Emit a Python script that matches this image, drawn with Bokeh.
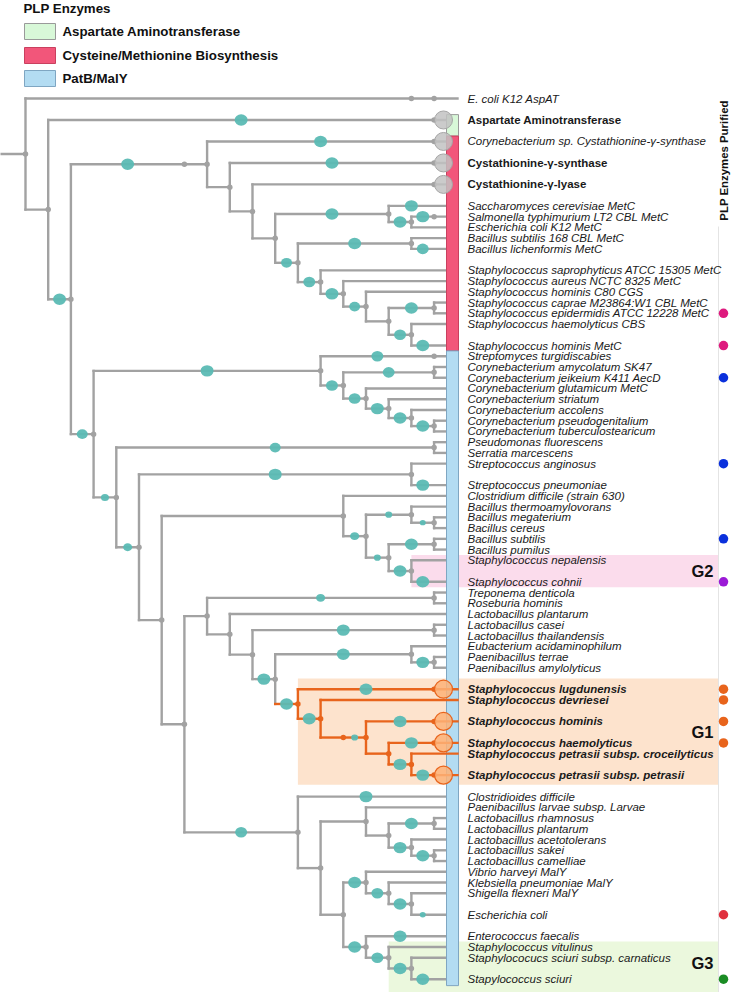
import math
from bokeh.plotting import figure
from bokeh.models import Range1d
from bokeh.core.properties import value
from bokeh.embed import file_html
from bokeh.resources import INLINE

# ---------------- data ----------------
LABELS = [
    "E. coli K12 AspAT",
    "Aspartate Aminotransferase",
    "Corynebacterium sp. Cystathionine-\u03b3-synthase",
    "Cystathionine-\u03b3-synthase",
    "Cystathionine-\u03b3-lyase",
    "Saccharomyces cerevisiae MetC",
    "Salmonella typhimurium LT2 CBL MetC",
    "Escherichia coli K12 MetC",
    "Bacillus subtilis 168 CBL MetC",
    "Bacillus lichenformis MetC",
    "Staphylococcus saprophyticus ATCC 15305 MetC",
    "Staphylococcus aureus NCTC 8325 MetC",
    "Staphylococcus hominis C80 CGS",
    "Staphylococcus caprae M23864:W1 CBL MetC",
    "Staphylococcus epidermidis ATCC 12228 MetC",
    "Staphylococcus haemolyticus CBS",
    "Staphylococcus hominis MetC",
    "Streptomyces turgidiscabies",
    "Corynebacterium amycolatum SK47",
    "Corynebacterium jeikeium K411 AecD",
    "Corynebacterium glutamicum MetC",
    "Corynebacterium striatum",
    "Corynebacterium accolens",
    "Corynebacterium pseudogenitalium",
    "Corynebacterium tuberculostearicum",
    "Pseudomonas fluorescens",
    "Serratia marcescens",
    "Streptococcus anginosus",
    "Streptococcus pneumoniae",
    "Clostridium difficile (strain 630)",
    "Bacillus thermoamylovorans",
    "Bacillus megaterium",
    "Bacillus cereus",
    "Bacillus subtilis",
    "Bacillus pumilus",
    "Staphylococcus nepalensis",
    "Staphylococcus cohnii",
    "Treponema denticola",
    "Roseburia hominis",
    "Lactobacillus plantarum",
    "Lactobacillus casei",
    "Lactobacillus thailandensis",
    "Eubacterium acidaminophilum",
    "Paenibacillus terrae",
    "Paenibacillus amylolyticus",
    "Staphylococcus lugdunensis",
    "Staphylococcus devriesei",
    "Staphylococcus hominis",
    "Staphylococcus haemolyticus",
    "Staphylococcus petrasii subsp. croceilyticus",
    "Staphylococcus petrasii subsp. petrasii",
    "Clostridioides difficile",
    "Paenibacillus larvae subsp. Larvae",
    "Lactobacillus rhamnosus",
    "Lactobacillus plantarum",
    "Lactobacillus acetotolerans",
    "Lactobacillus sakei",
    "Lactobacillus camelliae",
    "Vibrio harveyi MalY",
    "Klebsiella pneumoniae MalY",
    "Shigella flexneri MalY",
    "Escherichia coli",
    "Enterococcus faecalis",
    "Staphylococcus vitulinus",
    "Staphylococucs sciuri subsp. carnaticus",
    "Stapylococcus sciuri",
]
ROWS = [0, 2, 4, 6, 8, 10, 11, 12, 13, 14, 16, 17, 18, 19, 20, 21, 23, 24, 25, 26,
        27, 28, 29, 30, 31, 32, 33, 34, 36, 37, 38, 39, 40, 41, 42, 43, 45, 46, 47, 48,
        49, 50, 51, 52, 53, 55, 56, 58, 60, 61, 63, 65, 66, 67, 68, 69, 70, 71, 72, 73,
        74, 76, 78, 79, 80, 82]
BOLD_LEAVES = [1, 3, 4]
BOLD_ITALIC_LEAVES = [45, 46, 47, 48, 49, 50]

# tree edges: (child, parent, depth level of child, support circle diameter)
# ints are leaves (index into LABELS), strings internal nodes
EDGES = [
    ("d_ec", "root", 17, 0), (0, "d_ec", 18, 0),
    ("A", "root", 1, 0),
    (1, "A", 18, 13), ("B", "A", 2, 13),
    ("d_b", "B", 7, 13), ("C", "d_b", 8, 0),
    (2, "C", 18, 13), ("E", "C", 9, 0),
    (3, "E", 18, 13), ("F", "E", 10, 0),
    (4, "F", 18, 0), ("G", "F", 11, 0),
    ("H", "G", 16, 13), (5, "H", 18, 13), ("H2", "H", 17, 13),
    (6, "H2", 18, 13), (7, "H2", 18, 0),
    ("I", "G", 12, 11), ("J", "I", 17, 13), (8, "J", 18, 0), (9, "J", 18, 12),
    ("K", "I", 13, 12), (10, "K", 18, 0), ("L", "K", 14, 13), (11, "L", 18, 0),
    ("M", "L", 15, 11), (12, "M", 18, 0), ("N", "M", 16, 0),
    ("O", "N", 18, 13), (13, "O", 18, 0), (14, "O", 18, 0),
    ("P", "N", 17, 12), (15, "P", 18, 0), (16, "P", 18, 13),
    ("D", "B", 3, 11),
    ("Q", "D", 13, 13), (17, "Q", 18, 12), ("S", "Q", 14, 12),
    ("T", "S", 18, 12), (18, "T", 18, 0), (19, "T", 18, 0),
    ("U", "S", 15, 12), (20, "U", 18, 0), ("V", "U", 16, 13), (21, "V", 18, 0),
    ("W", "V", 17, 13), (22, "W", 18, 0), ("X", "W", 18, 13), (23, "X", 18, 0), (24, "X", 18, 0),
    ("R", "D", 4, 8), ("Y", "R", 18, 11), (25, "Y", 18, 0), (26, "Y", 18, 0),
    ("Z", "R", 5, 9), ("AA", "Z", 17, 13), (27, "AA", 18, 0), (28, "AA", 18, 13),
    ("AB", "Z", 6, 0), ("AC", "AB", 14, 0), (29, "AC", 18, 0),
    ("AE", "AC", 15, 9), ("AF", "AE", 17, 7), (30, "AF", 18, 0),
    ("AG", "AF", 18, 6), (31, "AG", 18, 0), (32, "AG", 18, 0),
    ("AH", "AE", 16, 7), ("AI", "AH", 18, 13), (33, "AI", 18, 0), (34, "AI", 18, 0),
    ("AJ", "AH", 17, 13), (35, "AJ", 18, 0), (36, "AJ", 18, 13),
    ("AD", "AB", 7, 0), ("AK", "AD", 8, 0),
    ("AM", "AK", 18, 9), (37, "AM", 18, 0), (38, "AM", 18, 0),
    ("AN", "AK", 9, 0), (39, "AN", 18, 0), ("AO", "AN", 10, 0),
    ("AP", "AO", 18, 13), (40, "AP", 18, 0), (41, "AP", 18, 0),
    ("AQ", "AO", 11, 13), ("AR", "AQ", 17, 13), (42, "AR", 18, 0),
    ("AS", "AR", 18, 13), (43, "AS", 18, 0), (44, "AS", 18, 0),
    ("AT", "AQ", 12, 13), (45, "AT", 18, 13), ("AU", "AT", 13, 13), (46, "AU", 18, 0),
    ("d_au", "AU", 14, 0), ("AV", "d_au", 15, 7), (47, "AV", 18, 13),
    ("AW", "AV", 16, 0), (48, "AW", 18, 13), ("AX", "AW", 17, 13),
    (49, "AX", 18, 0), (50, "AX", 18, 13),
    ("AL", "AD", 12, 12), (51, "AL", 18, 13), ("AY", "AL", 13, 0),
    ("AZ", "AY", 15, 0), (52, "AZ", 18, 0), ("BB", "AZ", 16, 0),
    ("BC", "BB", 18, 13), (53, "BC", 18, 0), (54, "BC", 18, 0),
    ("BD", "BB", 17, 13), (55, "BD", 18, 0), ("BE", "BD", 18, 13), (56, "BE", 18, 0), (57, "BE", 18, 0),
    ("BA", "AY", 14, 0),
    ("BF", "BA", 15, 13), (58, "BF", 18, 0), ("BH", "BF", 16, 12), (59, "BH", 18, 0),
    ("BI", "BH", 17, 13), (60, "BI", 18, 0), (61, "BI", 18, 6),
    ("BG", "BA", 15, 13), (62, "BG", 18, 13), ("BJ", "BG", 16, 12), (63, "BJ", 18, 0),
    ("BK", "BJ", 17, 13), (64, "BK", 18, 0), (65, "BK", 18, 13),
]
LEAF_DOTS = [0, 1, 2, 3, 4, 6, 17, 45, 47, 48, 50]
GREY_TIPS = [1, 2, 3, 4]
ORANGE_TIPS = [45, 47, 48, 50]
ORANGE_CLADE = "AT"

GROUPS = ["Aspartate Aminotransferase", "Cysteine/Methionine Biosynthesis", "PatB/MalY"]
GROUP_FILL = ["#d8f8d8", "#f2567a", "#b3dcf2"]
GROUP_EDGE = ["#9a9a9a", "#c9405f", "#7fa6c2"]
GROUP_ROW_START = [1.5, 3.5, 23.5]
GROUP_ROW_END = [3.5, 23.5, 82.6]

HL_NAMES = ["G1", "G2", "G3"]
HL_CLADES = ["AT", "AJ", "BJ"]
HL_ROW_TOP = [54.0, 42.5, 78.5]
HL_ROW_BOTTOM = [63.9, 45.5, 83.4]
HL_LABEL_ROWS = [entry for entry in (59.0, 44.0, 80.5)]
HL_COLORS = ["#fde3cd", "#fbdcec", "#ebf8dd"]

PURIFIED_ROWS = [20, 23, 26, 34, 41, 45, 55, 56, 58, 60, 76, 82]
PURIFIED_COLORS = ["#de1a7e", "#de1a7e", "#0a30dc", "#0a30dc", "#0a30dc", "#9b1ad6",
                   "#e8641c", "#e8641c", "#e8641c", "#e8641c", "#e0303e", "#1a8c24"]

# ---------------- layout (pixel <-> data) ----------------
W, H = 731, 992
X0, DX, Y0, DY = 25.0, 22.7, 98.0, 10.74
def lx(px):
    return (px - X0) / DX
def ry(py):
    return (py - Y0) / DY

LEAF_END = lx(457)
ROOT_STEM = lx(0)
GREY = "#a2a2a2"
ORANGE = "#e8641c"
TEAL = "#5bbab4"
FONT = value("Liberation Sans")

# ---------------- build tree ----------------
level = {"root": 0.0}
parent = {"root": None}
support = {"root": 0}
children = {}
for c, par, lv, s in EDGES:
    level[c] = lv
    parent[c] = par
    support[c] = s
    children.setdefault(par, []).append(c)

ypos = {}
def place(n):
    if isinstance(n, int):
        ypos[n] = ROWS[n]
        return ypos[n]
    ys = [place(c) for c in children[n]]
    ypos[n] = (min(ys) + max(ys)) / 2.0
    return ypos[n]
place("root")

def descendants(n):
    out = [n]
    for c in children.get(n, []):
        out.extend(descendants(c))
    return out
orange = set(descendants(ORANGE_CLADE))

segs = {"g": [[], [], [], []], "o": [[], [], [], []]}
def add(key, x0, y0, x1, y1):
    s = segs[key]
    s[0].append(x0); s[1].append(y0); s[2].append(x1); s[3].append(y1)

add("g", ROOT_STEM, ypos["root"], 0.0, ypos["root"])
for n in parent:
    if n == "root":
        continue
    key = "o" if n in orange else "g"
    x1 = LEAF_END if isinstance(n, int) else level[n]
    add(key, level[parent[n]], ypos[n], x1, ypos[n])
for n, ch in children.items():
    if len(ch) > 1:
        key = "o" if n in orange else "g"
        ys = [ypos[c] for c in ch]
        add(key, level[n], min(ys), level[n], max(ys))

# ---------------- figure ----------------
p = figure(width=W, height=H, output_backend="svg", toolbar_location=None,
           x_range=Range1d(lx(0), lx(W)), y_range=Range1d(ry(H), ry(0)),
           x_axis_location=None, y_axis_location=None, min_border=0,
           outline_line_color=None)
p.grid.visible = False
p.background_fill_color = "white"

# clade highlight boxes
p.quad(left=[level[c] for c in HL_CLADES], right=[lx(718)] * 3,
       top=HL_ROW_TOP, bottom=HL_ROW_BOTTOM, fill_color=HL_COLORS, line_color=None)

# purified column guide line
p.segment(x0=[lx(718)], y0=[ry(226)], x1=[lx(718)], y1=[ry(992)], line_color="#e4e4e4", line_width=1)

# grey branches
g = segs["g"]
p.segment(x0=g[0], y0=g[1], x1=g[2], y1=g[3], line_color=GREY, line_width=2.4, line_cap="square")

# category bar
p.quad(left=[lx(446)] * 3, right=[lx(458)] * 3, top=GROUP_ROW_START, bottom=GROUP_ROW_END,
       fill_color=GROUP_FILL, line_color=GROUP_EDGE, line_width=1)

# orange branches
o = segs["o"]
p.segment(x0=o[0], y0=o[1], x1=o[2], y1=o[3], line_color=ORANGE, line_width=2.4, line_cap="square")

# support circles
tx, ty, tw, th = [], [], [], []
for n in parent:
    if n != "root" and support[n] > 0:
        tx.append((level[parent[n]] + level[n]) / 2.0)
        ty.append(ypos[n])
        tw.append(support[n])
        th.append(support[n] * 0.88)
p.ellipse(x=tx, y=ty, width=tw, height=th, width_units="screen", height_units="screen",
          fill_color=TEAL, fill_alpha=0.95, line_color=None)

# node dots
dx_, dy_, dc_ = [], [], []
for n in children:
    dx_.append(level[n]); dy_.append(ypos[n]); dc_.append(ORANGE if n in orange else GREY)
for i in LEAF_DOTS:
    dx_.append(level[i]); dy_.append(ypos[i]); dc_.append(ORANGE if i in orange else GREY)
p.scatter(x=dx_, y=dy_, size=5.5, marker="circle", fill_color=dc_, line_color=None)

# tip circles
p.scatter(x=[lx(443)] * len(GREY_TIPS), y=[ROWS[i] for i in GREY_TIPS], size=18, marker="circle",
          fill_color="#c2c2c2", fill_alpha=0.85, line_color="#a6a6a6", line_width=1)
p.scatter(x=[lx(443)] * len(ORANGE_TIPS), y=[ROWS[i] for i in ORANGE_TIPS], size=18, marker="circle",
          fill_color="#fdb277", fill_alpha=0.85, line_color=ORANGE, line_width=1.2)

# leaf labels
norm = [i for i in range(len(LABELS)) if i not in BOLD_LEAVES and i not in BOLD_ITALIC_LEAVES]
for idxs, style in ((norm, "italic"), (BOLD_LEAVES, "bold"), (BOLD_ITALIC_LEAVES, "bold italic")):
    p.text(x=[lx(467)] * len(idxs), y=[ROWS[i] for i in idxs], text=[LABELS[i] for i in idxs],
           text_font=FONT, text_font_size="11.5px", text_font_style=style,
           text_baseline="middle", text_align="left", text_color="#1a1a1a")

# highlight labels
p.text(x=[lx(713)] * 3, y=HL_LABEL_ROWS,
       text=HL_NAMES, text_font=FONT, text_font_size="16.5px", text_font_style="bold",
       text_baseline="middle", text_align="right", text_color="#111111")

# purified column
p.scatter(x=[lx(723)] * len(PURIFIED_ROWS), y=PURIFIED_ROWS, size=9.5, marker="circle",
          fill_color=PURIFIED_COLORS, line_color=None)
p.text(x=[lx(723)], y=[ry(160)], text=["PLP Enzymes Purified"], angle=math.pi / 2,
       text_font=FONT, text_font_size="11.4px", text_font_style="bold",
       text_baseline="middle", text_align="center", text_color="#111111")

# legend
p.text(x=[lx(23)], y=[ry(8)], text=["PLP Enzymes"], text_font=FONT, text_font_size="13.3px",
       text_font_style="bold", text_baseline="middle", text_align="left", text_color="#111111")
leg_y = [ry(31), ry(55), ry(78)]
p.quad(left=[lx(24)] * 3, right=[lx(55)] * 3, top=[y - 8 / DY for y in leg_y],
       bottom=[y + 8 / DY for y in leg_y], fill_color=GROUP_FILL, line_color=GROUP_EDGE, line_width=1)
p.text(x=[lx(62)] * 3, y=leg_y, text=GROUPS, text_font=FONT, text_font_size="13.3px",
       text_font_style="bold", text_baseline="middle", text_align="left", text_color="#111111")

open("out.html", "w").write(file_html(p, INLINE))
